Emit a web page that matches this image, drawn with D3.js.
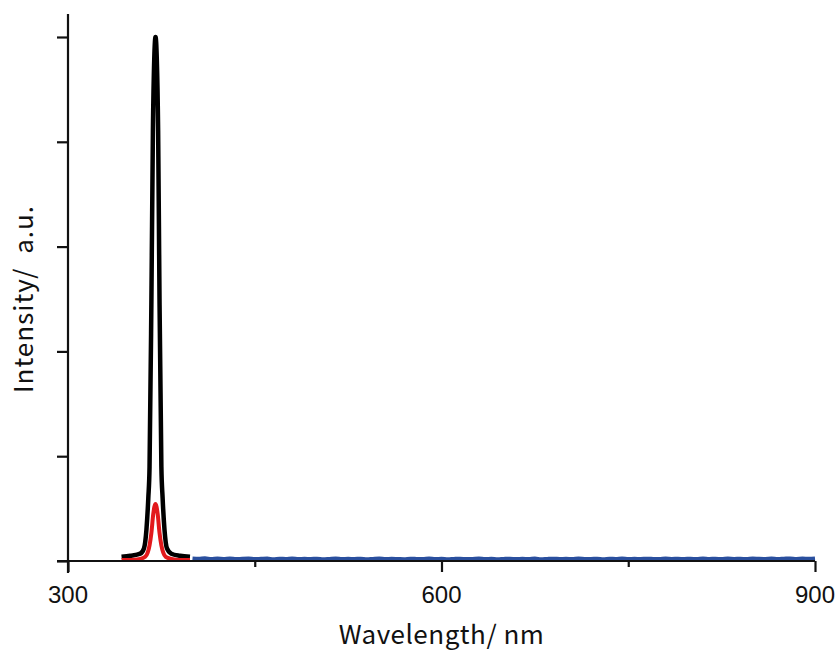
<!DOCTYPE html>
<html>
<head>
<meta charset="utf-8">
<script src="https://cdn.jsdelivr.net/npm/d3@7"></script>
<style>
  body { margin: 0; background: #fff; }
  .tick-label { font-family: "Liberation Sans", Arial, sans-serif; font-size: 24px; fill: #111; }
  .axis-title { font-family: "Noto Sans CJK JP", "Noto Sans", sans-serif; font-size: 26px; fill: #111; white-space: pre; }
</style>
</head>
<body>
<svg class="spectrum"></svg>
<script>
CHART_WIDTH = 838;
CHART_HEIGHT = 650;

// black emission spectrum (nm, a.u.)
var blackWl  = [343, 350, 358, 361, 363, 364.5, 365.5, 367, 368.2, 369.3, 370.3, 371.3, 372.4, 373.5, 375, 376, 377.5, 379.5, 383, 390, 398];
var blackVal = [0.04, 0.05, 0.07, 0.12, 0.3, 0.6, 0.9, 2.5, 4.1, 4.8, 5.0, 4.8, 4.1, 2.5, 0.9, 0.6, 0.3, 0.12, 0.07, 0.05, 0.04];

// red emission spectrum
var redWl  = [343, 350, 358, 362, 364, 365.5, 367, 368.5, 370.3, 372, 373.5, 375, 376.5, 378.5, 383, 390, 398];
var redVal = [0.01, 0.01, 0.02, 0.04, 0.08, 0.15, 0.27, 0.45, 0.545, 0.45, 0.27, 0.15, 0.08, 0.04, 0.02, 0.01, 0.01];

// blue spectrum, 400-900 nm every 5 nm
var blueStart = 400, blueStep = 5;
var blueVal = [0.024,0.021,0.026,0.019,0.023,0.02,0.025,0.018,0.022,0.024,
  0.019,0.021,0.023,0.017,0.022,0.02,0.024,0.018,0.021,0.019,
  0.022,0.017,0.02,0.023,0.018,0.021,0.019,0.022,0.016,0.02,
  0.023,0.018,0.021,0.019,0.017,0.022,0.02,0.018,0.023,0.019,
  0.021,0.017,0.02,0.022,0.018,0.02,0.023,0.019,0.021,0.017,
  0.02,0.022,0.018,0.021,0.019,0.023,0.017,0.02,0.022,0.019,
  0.021,0.018,0.023,0.02,0.019,0.022,0.017,0.021,0.02,0.024,
  0.018,0.021,0.019,0.022,0.02,0.018,0.023,0.02,0.021,0.019,
  0.022,0.018,0.024,0.02,0.021,0.019,0.023,0.02,0.022,0.018,
  0.024,0.021,0.02,0.023,0.019,0.022,0.025,0.02,0.023,0.021,0.024];

var xTicks = [300, 450, 600, 750, 900];
var xLabels = [300, 600, 900];
var yTicks = [0, 1, 2, 3, 4, 5];

var svg = d3.select(".spectrum")
    .attr("width", CHART_WIDTH)
    .attr("height", CHART_HEIGHT);

var x = d3.scaleLinear().domain([300, 900]).range([68, 815]);
var y = d3.scaleLinear().domain([0, 5]).range([561, 37]);
var yTop = 5.22;

function toPoints(wl, vals) {
    return wl.map(function(w, i) { return [w, vals[i]]; });
}

var line = d3.line()
    .curve(d3.curveMonotoneX)
    .x(function(d) { return x(d[0]); })
    .y(function(d) { return y(d[1]); });

var blue = blueVal.map(function(v, i) { return [blueStart + i * blueStep, v]; });

svg.append("path")
    .attr("d", line(blue))
    .attr("fill", "none")
    .attr("stroke", "#2a4f9e")
    .attr("stroke-width", 4);

svg.append("path")
    .attr("d", line(toPoints(blackWl, blackVal)))
    .attr("fill", "none")
    .attr("stroke", "#000")
    .attr("stroke-width", 4.5)
    .attr("stroke-linejoin", "round");

svg.append("path")
    .attr("d", line(toPoints(redWl, redVal)))
    .attr("fill", "none")
    .attr("stroke", "#e2191c")
    .attr("stroke-width", 4)
    .attr("stroke-linejoin", "round");

// x axis
var xAxis = svg.append("g")
    .attr("transform", "translate(0," + y(0) + ")")
    .call(d3.axisBottom(x).tickValues(xTicks).tickSize(11).tickFormat(""));
xAxis.select(".domain").remove();
xAxis.selectAll(".tick line")
    .attr("stroke", "#111")
    .attr("stroke-width", 2.2)
    .attr("y2", function(d) { return xLabels.indexOf(d) >= 0 ? 11 : 6; });

svg.append("line")
    .attr("x1", x(300) - 11).attr("x2", x(900))
    .attr("y1", y(0)).attr("y2", y(0))
    .attr("stroke", "#111").attr("stroke-width", 2.2);

svg.selectAll(".x-label")
    .data(xLabels)
    .enter().append("text")
    .attr("class", "tick-label")
    .attr("x", function(d) { return x(d); })
    .attr("y", 603)
    .attr("text-anchor", "middle")
    .text(function(d) { return d; });

// y axis
var yAxis = svg.append("g")
    .attr("transform", "translate(" + x(300) + ",0)")
    .call(d3.axisLeft(y).tickValues(yTicks).tickSize(11).tickFormat(""));
yAxis.select(".domain").remove();
yAxis.selectAll(".tick line").attr("stroke", "#111").attr("stroke-width", 2.2);

svg.append("line")
    .attr("x1", x(300)).attr("x2", x(300))
    .attr("y1", y(yTop)).attr("y2", y(0) + 12)
    .attr("stroke", "#111").attr("stroke-width", 2.2);

svg.append("text")
    .attr("class", "axis-title")
    .attr("x", x(600))
    .attr("y", 644)
    .attr("text-anchor", "middle")
    .style("letter-spacing", "0.5px")
    .text("Wavelength/ nm");

svg.append("text")
    .attr("class", "axis-title")
    .attr("transform", "translate(33," + y(2.5) + ") rotate(-90)")
    .attr("text-anchor", "middle")
    .style("letter-spacing", "1px")
    .text("Intensity/  a.u.");
</script>
</body>
</html>
